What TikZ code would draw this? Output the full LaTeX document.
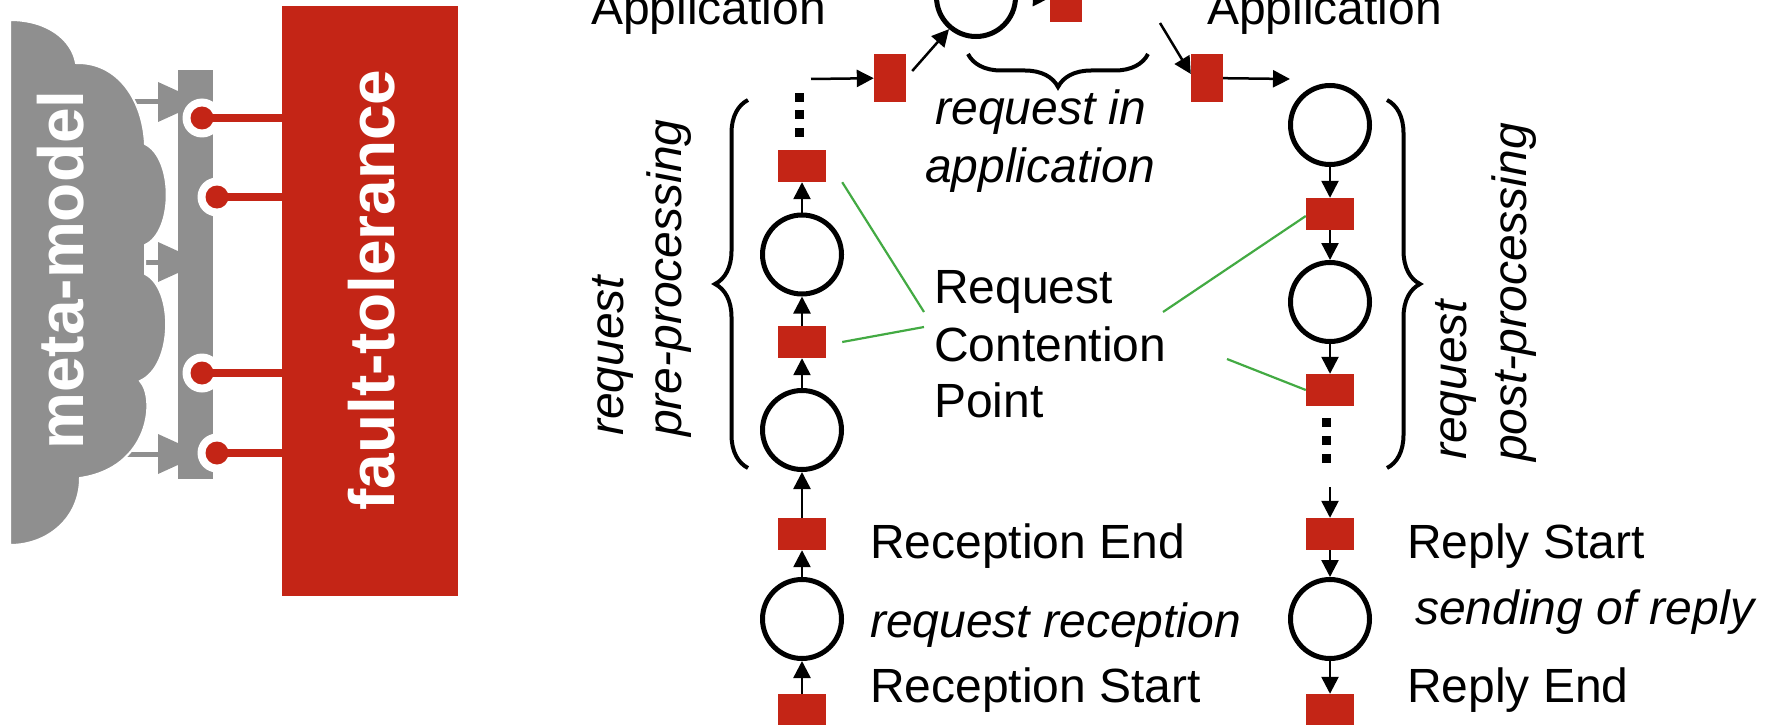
\documentclass[tikz,border=0pt]{standalone}
\usepackage{fontspec}
\setmainfont{Liberation Sans}
\usetikzlibrary{arrows.meta,decorations.pathreplacing,calc}

\definecolor{tred}{RGB}{196,37,22}
\definecolor{mgray}{RGB}{143,143,143}
\definecolor{cgreen}{RGB}{67,170,67}

\tikzset{
  place/.style={circle, draw=black, line width=5bp, minimum size=79bp, inner sep=0pt},
  trans/.style={rectangle, fill=tred, minimum width=48bp, minimum height=32bp, inner sep=0pt},
  vtrans/.style={trans, minimum width=32bp, minimum height=48bp},
  dotbox/.style={rectangle, fill=black, minimum size=9bp, inner sep=0pt},
  arr/.style={line width=2.5bp, -{Triangle[length=17bp,width=17bp]}},
  gline/.style={draw=cgreen, line width=2.2bp},
  brc/.style={line width=4bp, decorate, decoration={brace, amplitude=33bp}},
  lbl/.style={inner sep=0pt, font=\fontsize{48bp}{57bp}\selectfont},
  ilbl/.style={lbl, font=\fontsize{48bp}{57bp}\selectfont\itshape},
  bigw/.style={inner sep=0pt, text=white, rotate=90, anchor=base,
    font=\fontsize{64bp}{64bp}\selectfont\bfseries},
  lolli/.style={fill=tred},
}

\begin{document}
\begin{tikzpicture}[x=1bp, y=-1bp]
\useasboundingbox (0,0) rectangle (1769,725);
\clip (0,0) rectangle (1769,725);

% ---------- meta-model / fault-tolerance block ----------
% connectors from the cloud to the bar
\foreach \yy in {102,262,454} {
  \draw[mgray, line width=5bp] (120,\yy) -- (165,\yy);
  \fill[mgray] (158,\yy-20) -- (158,\yy+20) -- (202,\yy) -- cycle;
}
% cloud
\fill[mgray, draw=white, line width=2bp]
  (10,20) .. controls (48,20) and (72,40) .. (76,63)
  .. controls (118,62) and (143,100) .. (145,144)
  .. controls (174,158) and (174,232) .. (145,245)
  -- (145,274)
  .. controls (174,288) and (174,366) .. (140,381)
  .. controls (156,398) and (150,468) .. (80,478)
  .. controls (80,518) and (48,545) .. (10,545)
  -- cycle;
\node[bigw] (mm) at (83,270) {meta-model};

% bar
\fill[mgray] (178,70) rectangle (213,479);

% sockets and plugs
\foreach \xx/\yy in {202/118, 217/197, 202/373, 217/453} {
  \fill[white] (\xx,\yy) circle (19.5);
}
\node[rectangle, fill=tred, minimum width=176bp, minimum height=590bp, inner sep=0pt,
      anchor=north west] (ft) at (282,6) {};
\foreach \xx/\yy in {202/118, 217/197, 202/373, 217/453} {
  \draw[tred, line width=8bp] (\xx,\yy) -- (283,\yy);
  \fill[lolli] (\xx,\yy) circle (11.5);
}
\node[bigw] (ftl) at (394,290) {fault-tolerance};

% ---------- request path ----------
% left column (request reception and pre-processing)
\node[trans] (R0) at (802,710) {};
\node[place] (C0) at (802,619) {};
\node[trans] (R1) at (802,534) {};
\node[place] (C1) at (802,430) {};
\node[trans] (R2) at (802,342) {};
\node[place] (C2) at (802,254.5) {};
\node[trans] (R3) at (802,166) {};
\node[dotbox] (ld1) at (799,97.5) {};
\node[dotbox] (ld2) at (799,115) {};
\node[dotbox] (ld3) at (799,133) {};

% application part
\node[vtrans] (Rin) at (890,78) {};
\node[place] (Ctop) at (976,-3) {};
\node[vtrans] (Rtop) at (1066,-2) {};
\node[vtrans] (Rout) at (1207,78) {};

% right column (post-processing and reply)
\node[place] (C4) at (1330,125) {};
\node[trans] (Q1) at (1330,214) {};
\node[place] (C5) at (1330,302) {};
\node[trans] (Q2) at (1330,390) {};
\node[dotbox] (rd1) at (1326.5,422.5) {};
\node[dotbox] (rd2) at (1326.5,440.5) {};
\node[dotbox] (rd3) at (1326.5,458.5) {};
\node[trans] (Q3) at (1330,534) {};
\node[place] (C6) at (1330,619) {};
\node[trans] (Q4) at (1330,710) {};

% free ends of connectors
\coordinate (lin) at (811,79);
\coordinate (appin) at (1160,23);
\coordinate (rto) at (1290,79);
\coordinate (qin) at (1330,487);

% arrows
\draw[arr] (R0) -- (C0);
\draw[arr] (C0) -- (R1);
\draw[arr] (R1) -- (C1);
\draw[arr] (C1) -- (R2);
\draw[arr] (R2) -- (C2);
\draw[arr] (C2) -- (R3);
\draw[arr] (lin) -- (Rin);
\draw[arr] ($(Rin.east)+(6,-7)$) -- (Ctop.230);
\draw[arr] (Ctop) -- (Rtop);
\draw[arr] (appin) -- ([yshift=4bp]Rout.west);
\draw[arr] (Rout) -- (rto);
\draw[arr] (C4) -- (Q1);
\draw[arr] (Q1) -- (C5);
\draw[arr] (C5) -- (Q2);
\draw[arr] (qin) -- (Q3);
\draw[arr] (Q3) -- (C6);
\draw[arr] (C6) -- (Q4);

% braces
\draw[brc] (1148,54) -- (968,54);
\draw[brc] (748,468) -- (748,100);
\draw[brc] (1387,100) -- (1387,468);

% labels
\node[lbl, anchor=base west] (appL) at (591,25) {Application};
\node[lbl, anchor=base west] (appR) at (1207,25) {Application};
\node[ilbl, anchor=base] (ria) at (1041,125) {request in};
\node[ilbl, anchor=base] (rib) at (1040,182) {application};

\node[lbl, anchor=base west] (rcp1) at (934,303) {Request};
\node[lbl, anchor=base west] (rcp2) at (934,361) {Contention};
\node[lbl, anchor=base west] (rcp3) at (934,417) {Point};

\node[lbl, anchor=base west] (recE) at (870,558) {Reception End};
\node[ilbl, anchor=base west] (recR) at (870,637) {request reception};
\node[lbl, anchor=base west] (recS) at (870,702) {Reception Start};

\node[lbl, anchor=base west] (repS) at (1407,558) {Reply Start};
\node[ilbl, anchor=base west] (repR) at (1415,624) {sending of reply};
\node[lbl, anchor=base west] (repE) at (1407,702) {Reply End};

\node[ilbl, anchor=base west, rotate=90] (preA) at (623,436) {request};
\node[ilbl, anchor=base west, rotate=90] (preB) at (681,437) {pre-processing};
\node[ilbl, anchor=base west, rotate=90] (postA) at (1466,460) {request};
\node[ilbl, anchor=base west, rotate=90] (postB) at (1526,462) {post-processing};

% contention point pointers
\coordinate (g1) at (924,312);
\coordinate (g2) at (924,327);
\coordinate (g3) at (1163,312);
\coordinate (g4) at (1227,359);
\draw[gline] ([xshift=16bp]R3.south east) -- (g1);
\draw[gline] ([xshift=16bp]R2.east) -- (g2);
\draw[gline] (g3) -- ([yshift=-2bp]Q1.west);
\draw[gline] (g4) -- (Q2.west);
\end{tikzpicture}
\end{document}
